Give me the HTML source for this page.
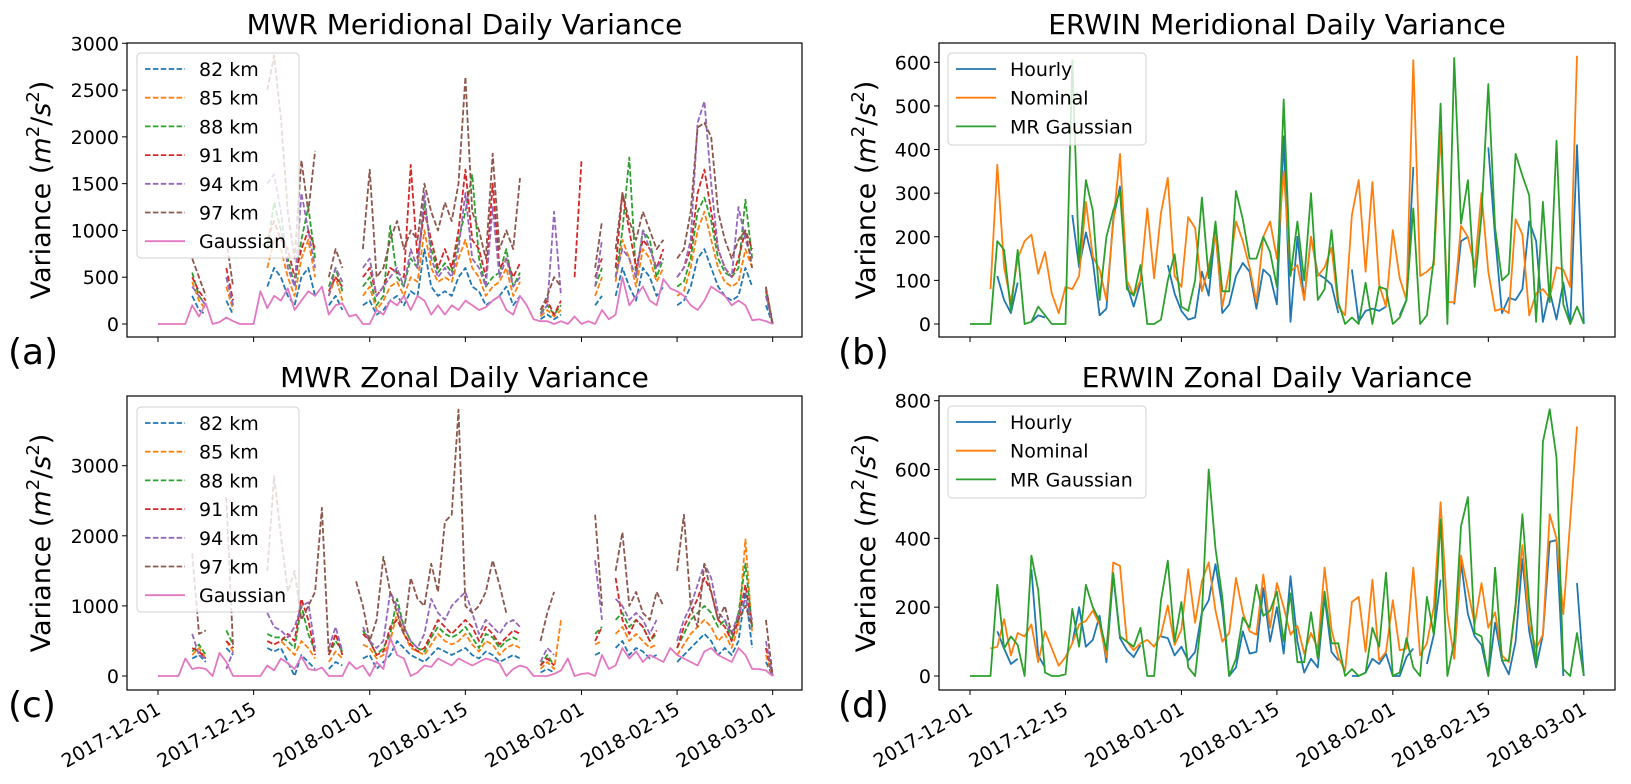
<!DOCTYPE html>
<html><head><meta charset="utf-8"><style>
html,body{margin:0;padding:0;background:#fff;}
svg{display:block;font-family:"DejaVu Sans","Liberation Sans",sans-serif;}
</style></head><body>
<svg id="fig" width="1631" height="784" viewBox="0 0 1631 784"></svg>
<script>
const n=null;
const dayTicks=[0,14,31,45,62,76,90];
const dateLabels=["2017-12-01","2017-12-15","2018-01-01","2018-01-15","2018-02-01","2018-02-15","2018-03-01"];
const mwrNames=["82 km","85 km","88 km","91 km","94 km","97 km","Gaussian"];
const erwinNames=["Hourly","Nominal","MR Gaussian"];
const aTicks=[0,500,1000,1500,2000,2500,3000];
const bTicks=[0,100,200,300,400,500,600];
const cTicks=[0,1000,2000,3000];
const dTicks=[0,200,400,600,800];

// Panel a: MWR meridional
const a82=[n,n,n,n,n,300,150,100,n,n,250,100,n,n,n,n,400,600,500,300,200,500,600,300,n,200,300,150,n,n,200,250,100,150,250,300,200,350,300,800,400,300,350,300,500,600,400,350,200,250,300,400,200,300,n,n,50,100,50,100,n,200,n,n,200,300,n,300,600,400,250,600,500,300,400,n,200,250,400,700,800,600,400,300,250,300,600,400,n,200,0];
const a85=[n,n,n,n,n,450,250,150,n,n,400,150,n,n,n,n,600,900,800,500,300,700,900,500,n,300,500,250,n,n,300,400,150,250,400,450,300,500,450,1000,600,450,500,450,700,900,600,500,300,400,450,600,300,450,n,n,80,150,80,150,n,300,n,n,300,500,n,450,900,700,400,800,700,450,600,n,300,350,600,1000,1200,900,600,450,400,450,800,600,n,300,0];
const a88=[n,n,n,n,n,550,300,200,n,n,500,200,n,n,n,n,800,1300,1000,700,400,900,1250,700,n,400,600,350,n,n,400,500,200,300,1050,500,400,700,600,1300,800,550,650,550,900,1200,1600,700,400,500,550,800,400,550,n,n,120,200,100,200,n,400,n,n,400,600,n,500,1000,1780,500,1000,900,500,700,n,400,450,700,1200,1350,1100,700,550,500,600,1330,700,n,350,0];
const a91=[n,n,n,n,n,500,350,250,n,n,600,250,n,n,n,n,900,1100,900,800,500,800,1000,800,n,350,500,400,n,n,500,600,300,400,600,550,500,1700,700,1200,900,600,800,600,1000,1650,900,800,500,1500,600,700,500,650,n,n,150,250,100,250,n,500,1750,n,500,700,n,600,1400,1000,600,900,800,600,800,n,500,600,800,1400,1650,1200,800,600,500,700,1000,800,n,380,0];
const a94=[n,n,n,n,n,400,300,200,n,n,500,200,n,n,n,n,1500,1600,1200,600,400,1400,1000,600,n,300,600,450,n,n,600,700,300,400,500,600,400,800,600,1400,700,500,600,500,800,1400,700,600,400,1250,500,700,400,500,n,n,100,200,1200,300,n,400,n,n,400,900,n,500,800,700,500,1000,800,600,700,n,500,600,900,2150,2380,1500,800,600,500,1250,900,700,n,300,0];
const a97=[n,n,n,n,n,700,500,300,n,n,900,400,n,n,n,n,2500,2870,2200,1200,700,1750,1200,1850,n,500,800,600,n,n,800,1650,500,600,900,1100,800,1000,900,1500,1200,1000,1300,1100,1500,2640,1200,1000,700,1820,800,1000,800,1560,n,n,150,300,500,400,n,600,n,n,600,1100,n,800,1400,1100,900,1200,1000,800,900,n,700,800,1200,2100,2150,2000,1200,900,700,900,1000,600,n,400,0];
const aG=[0,0,0,0,0,200,80,220,0,20,70,30,0,0,0,350,170,300,250,380,150,250,350,300,400,100,200,220,80,100,0,0,150,100,250,200,300,150,300,250,100,200,100,200,150,250,200,150,180,250,300,150,100,300,200,50,30,30,0,30,0,80,0,30,0,150,50,100,500,200,300,400,250,200,480,380,350,300,200,150,250,400,350,300,200,250,200,40,50,30,0];
// Panel c: MWR zonal
const c82=[n,n,n,n,n,250,300,200,n,n,400,300,n,n,n,n,400,350,400,200,0,300,200,100,n,100,200,150,n,n,250,300,100,200,300,500,400,300,250,200,300,400,350,300,350,400,300,250,350,300,200,250,300,250,n,n,50,100,50,n,n,n,200,n,300,350,n,400,500,300,400,350,250,300,n,n,200,300,400,500,600,500,300,400,300,500,1200,400,n,200,0];
const c85=[n,n,n,n,n,300,400,250,n,n,500,350,n,n,n,n,500,450,500,400,300,500,400,250,n,200,350,250,n,n,450,400,250,300,500,900,600,400,350,300,450,600,500,450,500,600,450,350,500,450,300,400,450,400,n,n,100,200,100,800,n,n,300,n,450,500,n,600,700,500,600,500,400,450,n,n,300,450,600,700,800,700,500,600,400,700,1950,600,n,300,0];
const c88=[n,n,n,n,n,350,450,300,n,n,650,450,n,n,n,n,600,550,550,500,400,1000,600,350,n,300,500,350,n,n,650,500,300,400,600,1100,700,500,400,350,550,700,600,550,600,700,550,400,600,550,400,500,550,500,n,n,150,300,150,n,n,n,400,n,600,700,n,800,900,700,800,700,500,600,n,n,400,600,800,900,1000,900,700,800,500,900,1600,700,n,400,0];
const c91=[n,n,n,n,n,400,350,250,n,n,500,400,n,n,n,n,500,450,500,600,500,1100,800,300,n,300,600,300,n,n,600,500,300,350,700,800,600,450,350,400,600,800,700,600,700,800,700,500,700,600,450,550,650,600,n,n,150,250,150,n,n,n,350,n,500,700,n,1400,800,600,800,700,500,650,n,n,400,700,900,1100,1400,1200,800,700,500,800,1300,700,n,400,0];
const c94=[n,n,n,n,n,600,300,250,n,n,100,350,n,n,n,n,900,700,650,550,700,1000,1050,400,n,400,700,350,n,n,700,500,400,500,1200,1000,700,500,400,600,1100,900,800,1000,1100,1200,900,600,800,700,600,750,800,700,n,n,200,400,300,n,n,n,500,n,1650,800,n,1100,1000,800,900,800,600,800,n,n,500,800,1000,1300,1600,1400,900,800,600,900,1100,800,n,500,0];
const c97=[n,n,n,n,n,1750,600,650,n,n,2550,400,n,n,n,n,1500,2850,2000,1200,1500,800,1000,1200,2400,300,n,n,n,1350,1000,500,800,1700,1200,900,600,1400,1100,1000,1600,1200,2200,2300,3800,1000,900,1000,1200,1650,1300,900,n,n,n,n,500,900,1200,n,n,n,700,n,2300,1000,n,1500,2050,1000,1200,900,800,1200,1000,n,1500,2300,1000,700,1600,1200,800,1000,600,800,1000,700,n,800,0];
const cG=[0,0,0,0,250,100,120,100,0,330,200,0,0,0,0,0,150,80,250,180,100,280,100,80,120,0,0,0,200,100,150,0,200,100,550,300,250,0,50,150,130,250,200,150,250,200,150,200,250,220,180,0,100,150,120,0,0,0,30,80,250,0,30,40,0,300,100,150,400,250,350,200,300,250,200,400,300,250,200,150,350,400,300,250,200,400,300,100,100,80,0];
// Panel b: ERWIN meridional
const bHourly=[n,n,n,n,110,55,25,95,n,5,20,15,n,n,n,250,130,210,145,20,35,240,315,90,40,95,n,n,n,135,70,30,10,15,120,65,220,25,45,110,140,120,35,125,110,45,430,5,200,55,200,115,105,90,25,n,125,5,30,35,30,40,n,20,55,360,n,n,150,n,n,45,190,200,n,n,405,200,25,60,55,80,235,190,5,75,10,95,0,410,0];
const bNominal=[n,n,n,80,365,130,50,150,190,205,115,165,70,25,85,80,110,280,155,125,55,230,390,100,65,100,265,105,255,335,110,85,245,220,75,130,205,40,120,235,190,130,50,200,235,150,350,120,135,55,200,110,130,175,40,20,250,330,120,325,90,40,215,105,55,605,110,120,135,440,50,50,225,200,130,300,120,30,35,25,240,205,20,70,80,60,130,125,85,615,n];
const bMR=[0,0,0,0,190,170,30,170,0,5,40,20,0,0,0,605,140,330,260,55,200,260,305,80,65,135,0,0,10,100,160,40,30,100,290,105,235,75,75,305,240,150,150,200,165,85,515,110,235,100,300,55,80,215,50,0,15,0,95,0,85,80,0,15,55,265,0,20,150,505,0,610,230,330,85,250,550,220,100,115,390,340,295,5,280,50,420,45,0,40,0];
// Panel d: ERWIN zonal
const dHourly=[n,n,n,n,130,80,35,50,n,310,60,25,n,n,n,95,200,85,105,175,40,295,110,75,55,90,n,n,115,110,60,85,45,70,185,220,325,200,0,25,130,65,70,255,100,200,65,290,100,10,50,25,230,70,45,n,0,0,10,50,35,65,0,0,55,80,n,35,120,280,n,50,330,180,115,90,0,155,45,5,100,340,130,25,120,390,395,0,n,270,0];
const dNominal=[n,n,n,80,85,165,60,125,115,150,40,130,80,30,55,95,150,160,190,150,55,330,320,100,75,95,105,85,120,205,90,135,310,155,275,330,190,100,125,285,185,130,120,295,140,270,200,120,145,65,125,80,315,135,55,15,215,230,70,280,45,70,220,75,80,315,60,95,200,505,180,50,350,250,150,270,140,185,60,40,200,380,150,80,120,470,400,180,450,725,n];
const dMR=[0,0,0,0,265,80,115,90,0,350,250,10,0,0,5,195,85,265,200,160,75,300,115,100,85,140,0,0,220,335,100,215,25,0,180,600,370,230,0,50,170,140,265,175,190,245,100,240,40,40,185,50,245,95,95,0,20,0,10,140,85,300,0,10,110,25,0,230,120,455,0,100,435,520,125,115,0,315,45,45,210,470,210,30,680,775,635,20,0,125,0];

const colors=["#1f77b4","#ff7f0e","#2ca02c","#d62728","#9467bd","#8c564b","#e377c2"];
const NS="http://www.w3.org/2000/svg";
const svg=document.getElementById('fig');
function mk(tag,attrs,parent){const e=document.createElementNS(NS,tag);for(const k in attrs)e.setAttribute(k,attrs[k]);(parent||svg).appendChild(e);return e;}

function panel(cfg){
  const g=mk('g',{});
  
  
  const xs=d=>cfg.x0+d*cfg.dx;
  const ys=v=>cfg.y0-v*cfg.vy;
  const t=mk('text',{x:(cfg.L+cfg.R)/2,y:cfg.T-9,'text-anchor':'middle','font-size':'28'},g);
  t.textContent=cfg.title;
  
  
  const yl=mk('text',{x:0,y:0,'text-anchor':'middle','font-size':'27',transform:`translate(${cfg.ylx},${(cfg.T+cfg.B)/2}) rotate(-90)`},g);
  yl.innerHTML='Variance (<tspan font-style="italic">m</tspan><tspan font-size="18" dy="-11">2</tspan><tspan dy="11">/</tspan><tspan font-style="italic">s</tspan><tspan font-size="18" dy="-11">2</tspan><tspan dy="11">)</tspan>';
  
  
  const lt=mk('text',{x:cfg.lx,y:cfg.B+27,'font-size':'36'},g);
  lt.textContent=cfg.letter;
  
  
  const cid='clip'+cfg.letter.replace(/\W/g,'');
  const cp=mk('clipPath',{id:cid},g);mk('rect',{x:cfg.L,y:cfg.T,width:cfg.R-cfg.L,height:cfg.B-cfg.T},cp);
  const sg=mk('g',{'clip-path':`url(#${cid})`},g);
  cfg.series.forEach((s,i)=>{
    let d='',pen=false;
    s.forEach((v,k)=>{if(v===null){pen=false;return;}d+=(pen?'L':'M')+xs(k).toFixed(1)+','+ys(v).toFixed(1);pen=true;});
    const p=mk('path',{d:d,fill:'none',stroke:cfg.colors[i],'stroke-width':'1.8','stroke-linejoin':'round','stroke-dasharray':cfg.dash[i]||'none'},sg);
    
    
  });
  const fr=mk('rect',{x:cfg.L,y:cfg.T,width:cfg.R-cfg.L,height:cfg.B-cfg.T,fill:'none',stroke:'#000','stroke-width':'1.2'},g);
  
  
  cfg.yt.forEach(v=>{
    const y=ys(v);
    mk('line',{x1:cfg.L-5,x2:cfg.L,y1:y,y2:y,stroke:'#000','stroke-width':'1'},g);
    const tl=mk('text',{x:cfg.L-8,y:y+7,'text-anchor':'end','font-size':'19'},g);
    tl.textContent=v;
    
    
  });
  dayTicks.forEach((d,i)=>{
    const x=xs(d);
    mk('line',{x1:x,x2:x,y1:cfg.B,y2:cfg.B+5,stroke:'#000','stroke-width':'1'},g);
    if(cfg.xlabels){
      const tl=mk('text',{x:0,y:0,'text-anchor':'end','font-size':'19',transform:`translate(${x+4},${cfg.B+23}) rotate(-30)`},g);
      tl.textContent=dateLabels[i];
      
      
    }
  });
  const lg=mk('g',{},g);
  
  
  mk('rect',{x:cfg.lg[0],y:cfg.lg[1],width:cfg.lg[2],height:cfg.lg[3],rx:4,fill:'#fff','fill-opacity':'0.8',stroke:'#d0d0d0','stroke-width':'1'},lg);
  cfg.names.forEach((nm,i)=>{
    const y=cfg.lg[1]+16+i*cfg.lrow;
    mk('line',{x1:cfg.lg[0]+8,x2:cfg.lg[0]+48,y1:y,y2:y,stroke:cfg.colors[i],'stroke-width':'1.8','stroke-dasharray':cfg.dash[i]||'none'},lg);
    const tx=mk('text',{x:cfg.lg[0]+62,y:y+7,'font-size':'19'},lg);
    tx.textContent=nm;
    
    
  });
}
const dashes=["5.5,2.4","5.5,2.4","5.5,2.4","5.5,2.4","5.5,2.4","5.5,2.4",null];
panel({name:'mwr-meridional-panel',title:'MWR Meridional Daily Variance',letter:'(a)',L:127,R:802,T:43,B:337,x0:158,dx:6.83,y0:324,vy:280.7/3000,
  series:[a82,a85,a88,a91,a94,a97,aG],names:mwrNames,colors:colors,dash:dashes,yt:aTicks,xlabels:false,ylx:50,lx:8,lg:[137,53,162,205],lrow:28.7});
panel({name:'erwin-meridional-panel',title:'ERWIN Meridional Daily Variance',letter:'(b)',L:939,R:1615,T:43,B:337,x0:970,dx:6.82,y0:324,vy:261.7/600,
  series:[bHourly,bNominal,bMR],names:erwinNames,colors:colors,dash:[],yt:bTicks,xlabels:false,ylx:875,lx:838,lg:[948,53,198,92],lrow:28.7});
panel({name:'mwr-zonal-panel',title:'MWR Zonal Daily Variance',letter:'(c)',L:127,R:802,T:396,B:690,x0:158,dx:6.83,y0:676,vy:210.3/3000,
  series:[c82,c85,c88,c91,c94,c97,cG],names:mwrNames,colors:colors,dash:dashes,yt:cTicks,xlabels:true,ylx:50,lx:8,lg:[137,407,162,205],lrow:28.7});
panel({name:'erwin-zonal-panel',title:'ERWIN Zonal Daily Variance',letter:'(d)',L:939,R:1615,T:396,B:690,x0:970,dx:6.82,y0:676,vy:275.3/800,
  series:[dHourly,dNominal,dMR],names:erwinNames,colors:colors,dash:[],yt:dTicks,xlabels:true,ylx:875,lx:838,lg:[948,406,198,92],lrow:28.7});
</script>
</body></html>
